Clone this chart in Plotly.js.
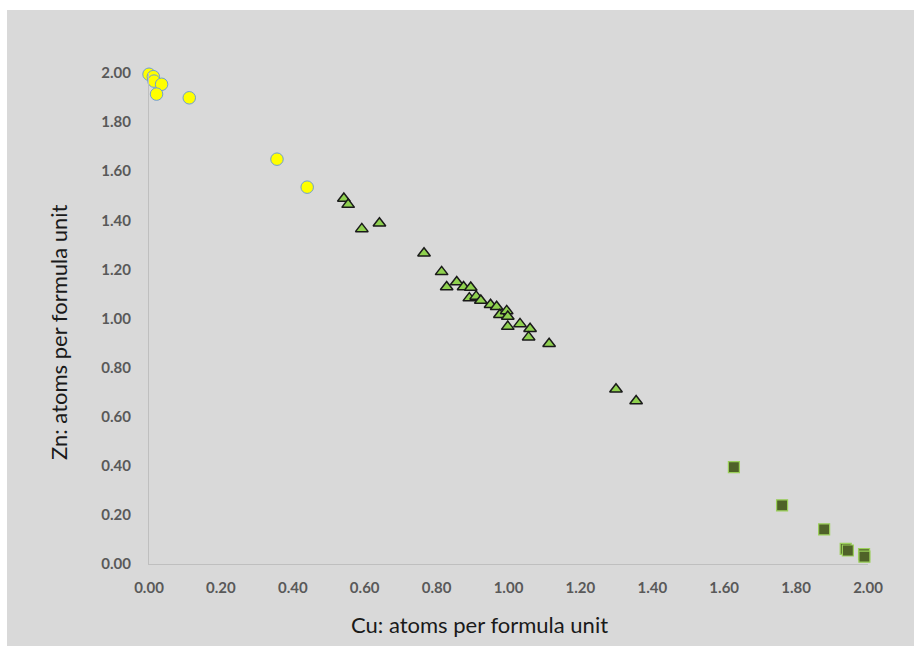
<!DOCTYPE html>
<html>
<head>
<meta charset="utf-8">
<script src="https://cdn.plot.ly/plotly-3.0.1.min.js"></script>
<style>
  html, body { margin: 0; padding: 0; background: #ffffff; }
  #chart { position: absolute; left: 7px; top: 10px; width: 907px; height: 636px; }
</style>
</head>
<body>
<div id="chart"></div>
<script>
// Series 1: yellow circles
const circleCu = [0.000, 0.012, 0.014, 0.035, 0.021, 0.112, 0.356, 0.440];
const circleZn = [1.995, 1.985, 1.967, 1.954, 1.914, 1.899, 1.649, 1.535];

// Series 2: green triangles
const triCu = [0.542, 0.554, 0.592, 0.641, 0.765, 0.814, 0.828, 0.856, 0.875, 0.895,
               0.891, 0.910, 0.923, 0.950, 0.967, 0.976, 0.995, 0.998, 0.998, 1.032,
               1.060, 1.056, 1.113, 1.299, 1.355];
const triZn = [1.489, 1.464, 1.365, 1.388, 1.266, 1.190, 1.128, 1.149, 1.128, 1.126,
               1.083, 1.090, 1.073, 1.056, 1.048, 1.015, 1.031, 1.008, 0.967, 0.978,
               0.958, 0.924, 0.897, 0.712, 0.664];

// Series 3: dark olive squares
const sqCu = [1.627, 1.761, 1.878, 1.938, 1.944, 1.989, 1.990];
const sqZn = [0.395, 0.239, 0.141, 0.062, 0.055, 0.040, 0.030];

const xTickVals = [0, 0.2, 0.4, 0.6, 0.8, 1.0, 1.2, 1.4, 1.6, 1.8, 2.0];
const xTickText = ["0.00","0.20","0.40","0.60","0.80","1.00","1.20","1.40","1.60","1.80","2.00"];
const yTickVals = [0, 0.2, 0.4, 0.6, 0.8, 1.0, 1.2, 1.4, 1.6, 1.8, 2.0];
const yTickText = ["0.00","0.20","0.40","0.60","0.80","1.00","1.20","1.40","1.60","1.80","2.00"];

const xTitle = "Cu: atoms per formula unit";
const yTitle = "Zn: atoms per formula unit";

const traces = [
  {
    x: circleCu, y: circleZn, type: "scatter", mode: "markers", cliponaxis: false,
    marker: { symbol: "circle", size: 12.5, color: "#ffff00", line: { color: "#6f9ed0", width: 1 } },
    hoverinfo: "x+y"
  },
  {
    x: triCu, y: triZn, type: "scatter", mode: "markers", cliponaxis: false,
    marker: { symbol: "triangle-up", size: 11, color: "#8fd14f", line: { color: "#1a1a1a", width: 1.5 } },
    hoverinfo: "x+y"
  },
  {
    x: sqCu, y: sqZn, type: "scatter", mode: "markers", cliponaxis: false,
    marker: { symbol: "square", size: 11, color: "#4f6228", line: { color: "#9bcf5a", width: 1.2 } },
    hoverinfo: "x+y"
  }
];

const tickFont = { family: "Lato, 'Open Sans', sans-serif", size: 15, color: "#595959", weight: "bold" };
const titleFont = { family: "Lato, 'Open Sans', sans-serif", size: 22, color: "#1a1a1a" };

const layout = {
  width: 907, height: 636,
  paper_bgcolor: "#d9d9d9",
  plot_bgcolor: "#d9d9d9",
  showlegend: false,
  margin: { l: 142, r: 46, t: 63, b: 82 },
  xaxis: {
    range: [0, 2], showgrid: false, zeroline: false,
    showline: true, linecolor: "#bfbfbf", linewidth: 1,
    ticks: "", tickvals: xTickVals, ticktext: xTickText,
    tickfont: tickFont, ticklabelstandoff: 10
  },
  yaxis: {
    range: [0, 2], showgrid: false, zeroline: false,
    showline: true, linecolor: "#bfbfbf", linewidth: 1,
    ticks: "", tickvals: yTickVals, ticktext: yTickText,
    tickfont: tickFont, ticklabelstandoff: 14
  },
  annotations: [
    {
      text: xTitle, xref: "paper", yref: "paper", x: 0.4597, y: -0.123,
      xanchor: "center", yanchor: "middle", showarrow: false, font: titleFont
    },
    {
      text: yTitle, xref: "paper", yref: "paper", x: -0.1259, y: 0.4735,
      xanchor: "center", yanchor: "middle", showarrow: false, textangle: -90, font: titleFont
    }
  ]
};

Plotly.newPlot("chart", traces, layout, { displayModeBar: false, staticPlot: true });
</script>
</body>
</html>
